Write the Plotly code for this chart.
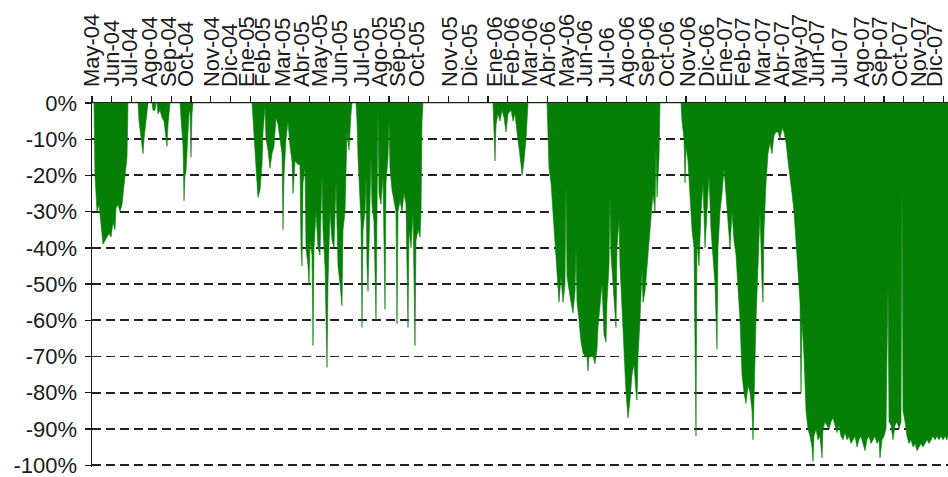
import plotly.graph_objects as go

# --- data: drawdown series (session index vs. drawdown %) ---
sesion = [
    0, 2, 3, 5, 7, 9, 11, 13, 15, 17, 19, 21, 23, 24, 26, 28, 30, 31, 33, 35, 36,
    46, 47, 49, 51, 52, 54, 56,
    60, 61, 63, 64,
    65, 66, 68, 70, 72, 74, 75, 76, 78,
    88, 89, 90, 91, 92, 93, 94, 96, 97, 98, 99, 100, 101,
    160, 161, 163, 165, 166, 168, 170, 171, 173, 174, 176, 178, 180, 182, 184, 186, 188, 190,
    191, 192, 194, 196, 198, 200, 201, 203, 206, 208, 209, 210, 211, 213, 214, 216, 217, 218,
    220, 221, 222, 224, 226, 228, 230, 231, 233, 235, 236, 238, 240, 242, 244, 246, 248, 250,
    251, 253, 255, 257, 259, 260,
    264, 265, 266, 268, 269, 270, 271, 273, 274, 275, 276, 277, 279, 280, 282, 284, 285, 286,
    287, 289, 291, 293, 294, 296, 297, 298, 300, 302, 304, 305, 306, 308, 310, 312, 314, 316,
    317, 319, 321, 323, 324, 326, 328, 329, 330, 331,
    401, 402, 403, 404, 406, 408, 410, 412, 414, 416, 419, 421, 423, 425, 427, 429, 430, 432,
    434, 436,
    455, 456, 457, 459, 461, 463, 465, 467, 469, 471, 473, 474, 475, 477, 479, 481, 483, 484,
    485, 487, 489, 491, 493, 495, 496, 497, 499, 501, 503, 505, 506, 508, 510, 512, 514, 515,
    517, 518, 519, 521, 523, 524, 525, 527, 528, 530, 532, 534, 536, 538, 540, 542, 544, 545,
    546, 548, 550, 551, 553, 555, 557, 559, 561, 563, 564, 565, 567, 568,
    589, 590, 592, 593, 594, 596, 598, 600, 602, 604, 605, 607, 609, 611, 613, 615, 617, 619,
    621, 623, 625, 626, 628, 630, 632, 634, 636, 638, 640, 642, 644, 646, 648, 650, 652, 654,
    656, 658, 660, 661, 662, 664, 666, 668, 670, 671, 672, 674, 676, 678, 680, 682, 684, 686,
    688, 690, 692, 694, 696, 698, 700, 702, 704, 706, 708, 709, 710, 712, 714, 716, 718, 720,
    721, 722, 724, 726, 728, 730, 731, 733, 735, 737, 739, 741, 743, 745, 747, 749, 751, 753,
    755, 757, 759, 761, 763, 765, 767, 769, 771, 773, 775, 777, 779, 781, 783, 785, 787, 788,
    790, 792, 794, 796, 797, 799, 801, 803, 805, 807, 809, 810, 811, 813, 815, 817, 819, 821,
    823, 825, 827, 829, 831, 833, 835, 837, 839, 841, 843, 845, 847, 849, 851, 853, 855, 856,
]
drawdown = [
    0, 0, -20, -30, -28, -33, -39, -38, -37, -36, -37, -33, -35, -29, -28, -30, -28, -25, -20, -15, 0,
    0, -5, -10, -14, -10, -5, 0,
    0, -2, -2, 0,
    0, -3, -2, -4, -5, -9, -12, -6, 0,
    0, -3, -8, -12, -27, -20, -19, -8, -3, -2, -15, -3, 0,
    0, -5, -12, -22, -26, -24, -17, -8, -1, -10, -13, -18, -14, -12, -4, -6, -10, -14,
    -35, -20, -10, -5, -12, -16, -25, -16, -17, -17, -40, -45, -22, -18, -40, -45, -50, -38,
    -42, -67, -40, -30, -40, -42, -20, -35, -45, -73, -50, -30, -38, -40, -22, -45, -50, -56,
    -35, -30, -8, -13, -3, 0,
    0, -5, -15, -28, -33, -62, -35, -30, -20, -45, -52, -40, -15, -28, -33, -60, -30, -2,
    -25, -28, -20, -57, -22, -15, -5, -18, -24, -27, -30, -61, -30, -27, -30, -25, -28, -62,
    -35, -40, -30, -67, -38, -35, -37, -30, -5, 0,
    0, -8, -16, -6, -3, -5, -2, -4, -8, -3, -2, -5, -3, -8, -12, -17, -20, -16,
    -10, 0,
    0, -8, -18, -22, -30, -36, -45, -55, -48, -55, -50, -22, -48, -52, -55, -58, -52, -40,
    -55, -60, -66, -69, -70, -70, -74, -70, -70, -70, -72, -68, -62, -55, -50, -64, -66, -55,
    -45, -26, -42, -50, -57, -62, -40, -32, -45, -58, -70, -80, -87, -82, -75, -72, -80, -82,
    -70, -60, -46, -55, -52, -45, -38, -33, -25, -30, -12, -26, -15, 0,
    0, -5, -10, -22, -12, -16, -27, -35, -40, -92, -38, -45, -30, -22, -40, -30, -20, -35,
    -42, -50, -68, -40, -30, -25, -18, -25, -33, -40, -30, -38, -42, -50, -60, -75, -80, -83,
    -78, -80, -85, -93, -80, -60, -45, -30, -50, -55, -35, -22, -14, -11, -14, -9, -8, -8,
    -10, -7, -8, -11, -16, -20, -25, -30, -38, -45, -55, -80, -60, -70, -85, -90, -92, -95,
    -99, -92, -90, -93, -92, -98, -90, -88, -89, -90, -88, -87, -89, -91, -89, -92, -93, -91,
    -93, -92, -94, -93, -92, -95, -93, -92, -94, -96, -93, -92, -94, -93, -92, -94, -93, -98,
    -93, -92, -90, -50, -88, -89, -93, -89, -88, -90, -88, -23, -85, -88, -92, -94, -93, -95,
    -94, -96, -95, -94, -95, -94, -93, -94, -93, -92, -93, -92, -93, -92, -93, -92, -93, -92,
]

# month labels (Spanish) and the session at which each label sits
meses = [
    "May-04", "Jun-04", "Jul-04", "Ago-04", "Sep-04", "Oct-04", "Nov-04", "Dic-04",
    "Ene-05", "Feb-05", "Mar-05", "Abr-05", "May-05", "Jun-05", "Jul-05", "Ago-05",
    "Sep-05", "Oct-05", "Nov-05", "Dic-05", "Ene-06", "Feb-06", "Mar-06", "Abr-06",
    "May-06", "Jun-06", "Jul-06", "Ago-06", "Sep-06", "Oct-06", "Nov-06", "Dic-06",
    "Ene-07", "Feb-07", "Mar-07", "Abr-07", "May-07", "Jun-07", "Jul-07", "Ago-07",
    "Sep-07", "Oct-07", "Nov-07", "Dic-07",
]
sesion_mes = [
    0, 20, 38, 58, 77, 94, 120, 138, 155, 171, 191, 210, 228, 248, 270, 288,
    306, 325, 358, 378, 403, 420, 438, 456, 475, 493, 515, 535, 555, 575, 596, 615,
    633, 651, 671, 690, 708, 725, 748, 770, 788, 808, 827, 843,
]
y_ticks = [0, -10, -20, -30, -40, -50, -60, -70, -80, -90, -100]
y_text = ["0%", "-10%", "-20%", "-30%", "-40%", "-50%", "-60%", "-70%", "-80%", "-90%", "-100%"]

GREEN = "#067f06"
INK = "#1a1a1a"
FONT = "Liberation Sans, Arial, sans-serif"

fig = go.Figure()
fig.add_trace(go.Scatter(
    x=sesion, y=drawdown, mode="lines", fill="tozeroy",
    line=dict(color=GREEN, width=0.6), fillcolor=GREEN,
    hoverinfo="skip", showlegend=False,
))

fig.update_layout(
    width=948, height=477,
    margin=dict(l=92, r=0, t=103, b=10, pad=0),
    paper_bgcolor="white", plot_bgcolor="white",
    font=dict(family=FONT, size=22, color=INK),
    xaxis=dict(
        range=[0, 856], side="top", automargin=False,
        showline=True, linecolor=INK, linewidth=1.5,
        tickmode="array", tickvals=sesion_mes, ticktext=meses,
        tickangle=-90, ticks="outside", ticklen=10, tickcolor="rgba(0,0,0,0)",
        ticklabeloverflow="allow",
        tickfont=dict(family=FONT, size=22, color=INK),
        showgrid=False, zeroline=False,
        minor=dict(ticks="outside", ticklen=6, tickwidth=1.3, tickcolor=INK,
                   tickmode="linear", tick0=0, dtick=19.8, showgrid=False),
    ),
    yaxis=dict(
        range=[-100.5, 0], automargin=False,
        showline=True, linecolor=INK, linewidth=1.5,
        tickmode="array", tickvals=y_ticks, ticktext=y_text,
        ticks="outside", ticklen=6, tickwidth=1.3, tickcolor=INK,
        ticklabelstandoff=3, ticklabeloverflow="allow",
        tickfont=dict(family=FONT, size=22, color=INK),
        showgrid=True, gridcolor="#222222", gridwidth=1.9, griddash="9px,5px",
        zeroline=False,
    ),
)

# remove the browser's default 8px body margin so the figure fills the window
fig.write_html(
    "out.html",
    config={"displayModeBar": False, "staticPlot": True},
    post_script="document.body.style.margin='0';",
)
